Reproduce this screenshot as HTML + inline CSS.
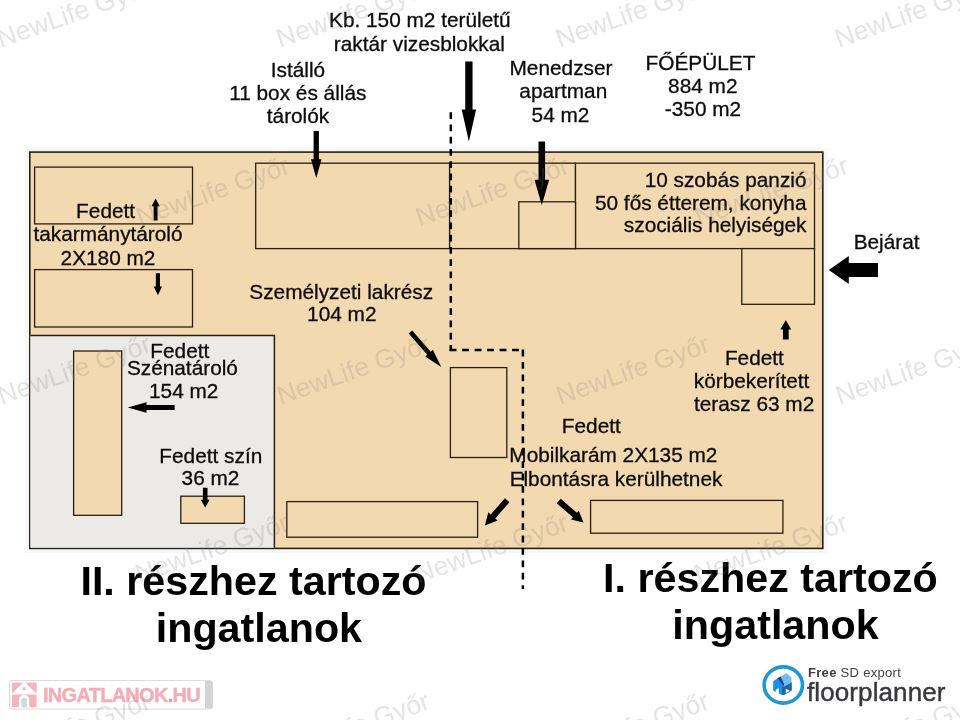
<!DOCTYPE html>
<html lang="hu"><head><meta charset="utf-8"><title>Alaprajz</title>
<style>
html,body{margin:0;padding:0;background:#fff;}
body{width:960px;height:720px;overflow:hidden;position:relative;}
svg{display:block;position:absolute;left:0;top:0;will-change:transform;}
text{font-family:"Liberation Sans",Arial,Helvetica,sans-serif;}
.lb{font-size:20.8px;fill:#0b0b0b;stroke:#0b0b0b;stroke-width:0.3px;}
.hd{font-size:41.25px;font-weight:700;fill:#000;}
.wm{font-size:26.5px;fill:#808080;fill-opacity:0.21;}
</style></head><body>
<svg width="960" height="720" viewBox="0 0 960 720">
<rect width="960" height="720" fill="#ffffff"/>
<rect x="25" y="147.5" width="802.5" height="405.5" fill="#eff3f8" opacity="0.6"/>
<rect x="29.8" y="152.1" width="793.00" height="396.30" fill="#f3d9b0" stroke="#2a1e13" stroke-width="1.6"/>
<rect x="30.3" y="335.6" width="244.1" height="212.1" fill="#eceae6"/>
<path d="M30.3 335.6 H274.4 V547.7" fill="none" stroke="#2a1e13" stroke-width="1.5"/>
<rect x="34.6" y="167.1" width="157.90" height="56.80" fill="#f3d9b0" stroke="#2a1e13" stroke-width="1.3"/>
<rect x="34.6" y="269.6" width="157.90" height="57.40" fill="#f3d9b0" stroke="#2a1e13" stroke-width="1.3"/>
<rect x="73.6" y="351" width="48.10" height="164.30" fill="#f3d9b0" stroke="#2a1e13" stroke-width="1.3"/>
<rect x="180.8" y="496.2" width="63.60" height="27.10" fill="#f3d9b0" stroke="#2a1e13" stroke-width="1.3"/>
<rect x="255.7" y="163.2" width="193.90" height="85.40" fill="#f3d9b0" stroke="#2a1e13" stroke-width="1.3"/>
<rect x="449.6" y="163.2" width="125.90" height="85.40" fill="#f3d9b0" stroke="#2a1e13" stroke-width="1.3"/>
<rect x="575.5" y="163.2" width="239.00" height="85.40" fill="#f3d9b0" stroke="#2a1e13" stroke-width="1.3"/>
<rect x="518.8" y="201.8" width="56.70" height="46.80" fill="#f3d9b0" stroke="#2a1e13" stroke-width="1.3"/>
<rect x="741.8" y="248.6" width="72.70" height="55.70" fill="#f3d9b0" stroke="#2a1e13" stroke-width="1.3"/>
<rect x="450.4" y="367.6" width="56.40" height="89.90" fill="#f3d9b0" stroke="#2a1e13" stroke-width="1.3"/>
<rect x="286.8" y="501.6" width="190.80" height="35.60" fill="#f3d9b0" stroke="#2a1e13" stroke-width="1.3"/>
<rect x="590.6" y="500.4" width="192.30" height="32.80" fill="#f3d9b0" stroke="#2a1e13" stroke-width="1.3"/>
<g fill="none" stroke="#000" stroke-width="2.5">
<path d="M450.8 112.2 V351.1" stroke-dasharray="6.7 5.55"/>
<path d="M449.6 349.9 H524.1" stroke-dasharray="6.9 5.6"/>
<path d="M522.9 349.6 V589" stroke-dasharray="6.8 5.6"/>
</g>
<g fill="#000">
<polygon points="313.60,131.00 313.60,159.20 310.95,159.20 316.25,177.90 321.55,159.20 318.90,159.20 318.90,131.00"/>
<polygon points="465.25,61.50 465.25,109.40 461.70,109.40 468.90,141.60 476.10,109.40 472.55,109.40 472.55,61.50"/>
<polygon points="538.50,141.50 538.50,179.70 534.50,179.70 541.80,205.20 549.10,179.70 545.10,179.70 545.10,141.50"/>
<polygon points="878.00,263.00 848.80,263.00 848.80,256.00 828.80,270.00 848.80,284.00 848.80,277.00 878.00,277.00"/>
<polygon points="157.55,220.50 157.55,206.20 159.70,206.20 155.60,198.40 151.50,206.20 153.65,206.20 153.65,220.50"/>
<polygon points="155.85,273.20 155.85,286.60 153.75,286.60 157.90,295.30 162.05,286.60 159.95,286.60 159.95,273.20"/>
<polygon points="174.60,405.05 146.50,405.05 146.50,402.20 127.70,407.50 146.50,412.80 146.50,409.95 174.60,409.95"/>
<polygon points="202.90,487.70 202.90,499.80 200.80,499.80 205.20,507.50 209.60,499.80 207.50,499.80 207.50,487.70"/>
<polygon points="788.65,339.50 788.65,329.50 791.20,329.50 785.80,320.00 780.40,329.50 782.95,329.50 782.95,339.50"/>
<polygon points="408.67,333.62 427.29,354.74 425.19,356.59 441.25,367.10 432.84,349.85 430.74,351.70 412.13,330.58"/>
<polygon points="504.95,498.22 490.69,514.45 488.29,512.34 484.90,525.60 497.61,520.52 495.20,518.41 509.45,502.18"/>
<polygon points="556.73,503.26 572.93,517.37 571.03,519.56 583.50,522.60 578.78,510.66 576.87,512.85 560.67,498.74"/>
</g>
<text class="lb" x="419.8" y="26.7" text-anchor="middle">Kb. 150 m2 területű</text>
<text class="lb" x="419.4" y="50.6" text-anchor="middle">raktár vizesblokkal</text>
<text class="lb" x="298" y="77" text-anchor="middle">Istálló</text>
<text class="lb" x="297.8" y="100" text-anchor="middle">11 box és állás</text>
<text class="lb" x="298" y="122.8" text-anchor="middle">tárolók</text>
<text class="lb" x="561" y="75.3" text-anchor="middle">Menedzser</text>
<text class="lb" x="563.3" y="98.2" text-anchor="middle">apartman</text>
<text class="lb" x="560.5" y="121.8" text-anchor="middle">54 m2</text>
<text class="lb" x="700.5" y="69.5" text-anchor="middle">FŐÉPÜLET</text>
<text class="lb" x="702.8" y="92.5" text-anchor="middle">884 m2</text>
<text class="lb" x="703" y="115.5" text-anchor="middle">-350 m2</text>
<text class="lb" x="806.5" y="186.5" text-anchor="end">10 szobás panzió</text>
<text class="lb" x="806.5" y="209.5" text-anchor="end">50 fős étterem, konyha</text>
<text class="lb" x="806.5" y="232.1" text-anchor="end">szociális helyiségek</text>
<text class="lb" x="886.6" y="248.8" text-anchor="middle">Bejárat</text>
<text class="lb" x="105.6" y="218" text-anchor="middle">Fedett</text>
<text class="lb" x="108" y="241" text-anchor="middle">takarmánytároló</text>
<text class="lb" x="108" y="264.5" text-anchor="middle">2X180 m2</text>
<text class="lb" x="341.2" y="298.6" text-anchor="middle">Személyzeti lakrész</text>
<text class="lb" x="341.8" y="321.3" text-anchor="middle">104 m2</text>
<text class="lb" x="179.8" y="358.2" text-anchor="middle">Fedett</text>
<text class="lb" x="182.4" y="375.1" text-anchor="middle">Szénatároló</text>
<text class="lb" x="183.7" y="397.7" text-anchor="middle">154 m2</text>
<text class="lb" x="210.8" y="462.5" text-anchor="middle">Fedett szín</text>
<text class="lb" x="210.5" y="485" text-anchor="middle">36 m2</text>
<text class="lb" x="591.3" y="433" text-anchor="middle">Fedett</text>
<text class="lb" x="613.4" y="462.2" text-anchor="middle">Mobilkarám 2X135 m2</text>
<text class="lb" x="616" y="486" text-anchor="middle">Elbontásra kerülhetnek</text>
<text class="lb" x="754.4" y="364.5" text-anchor="middle">Fedett</text>
<text class="lb" x="751.6" y="387.5" text-anchor="middle">körbekerített</text>
<text class="lb" x="754.1" y="410.5" text-anchor="middle">terasz 63 m2</text>
<text class="hd" x="253.5" y="595.3" text-anchor="middle">II. részhez tartozó</text>
<text class="hd" x="258.9" y="641.8" text-anchor="middle">ingatlanok</text>
<text class="hd" x="770.4" y="592.2" text-anchor="middle">I. részhez tartozó</text>
<text class="hd" x="775.5" y="638.6" text-anchor="middle">ingatlanok</text>
<g>
<rect x="9.6" y="680.6" width="203" height="28.4" rx="2.5" fill="#ffffff" stroke="#dadada" stroke-width="1"/>
<path d="M205 681.1 H210 a2.5 2.5 0 0 1 2.5 2.5 V706 a2.5 2.5 0 0 1 -2.5 2.5 H205 Z" fill="#d2d3d4"/>
<rect x="12" y="682.6" width="24.6" height="24.6" fill="#f6b3ba"/>
<path d="M11.4 694.2 L24.3 681.6 L37.2 694.2 V694.6 H11.4 Z" fill="#ffffff"/>
<path d="M18.9 707.2 V700 a5.2 5.2 0 0 1 10.4 0 V707.2 Z" fill="#ffffff"/>
<path d="M21.3 707.2 V700.6 a2.9 2.9 0 0 1 5.8 0 V707.2 Z" fill="#c9dde0"/>
<circle cx="24.1" cy="688.6" r="1.9" fill="#c9d3dc"/>
<text x="43" y="702.2" style="font-size:20px;font-weight:700;letter-spacing:-0.72px;fill:#f4adb5;stroke:#f4adb5;stroke-width:0.4px">INGATLANOK<tspan fill="#a9a4a8">.</tspan>HU</text>
</g>
<g>
<ellipse cx="783.3" cy="685" rx="19.2" ry="18.1" fill="#ffffff" stroke="#1f97d4" stroke-width="3.6"/>
<g transform="translate(755,660) scale(0.069444)">
<polygon points="365,238 455,190 525,255 525,325 410,385 410,350" fill="#6dbdf0"/>
<polygon points="262,305 322,262 388,345 388,505 345,482 345,405 300,428 300,460 262,440" fill="#1c90e6"/>
<polygon points="322,262 368,236 418,345 412,388 388,350" fill="#123f8c"/>
<polygon points="410,385 530,320 530,440 420,505 388,505 388,345" fill="#1b64b0"/>
<polygon points="443,415 503,444 443,478" fill="#ffffff"/>
</g>
<text x="808" y="677.2" style="font-size:13px;fill:#3f3f44;letter-spacing:0.3px"><tspan font-weight="700">Free</tspan> SD export</text>
<text x="807" y="701.2" style="font-size:26px;fill:#38383d;stroke:#38383d;stroke-width:0.45px;letter-spacing:0.1px">floorplanner</text>
</g>
<g class="wm">
<text x="0.8" y="48" transform="rotate(-19.5 0.8 48)">NewLife Győr</text>
<text x="280.1" y="48" transform="rotate(-19.5 280.1 48)">NewLife Győr</text>
<text x="559.4" y="48" transform="rotate(-19.5 559.4 48)">NewLife Győr</text>
<text x="838.7" y="48" transform="rotate(-19.5 838.7 48)">NewLife Győr</text>
<text x="140.3" y="226.5" transform="rotate(-19.5 140.3 226.5)">NewLife Győr</text>
<text x="419.6" y="226.5" transform="rotate(-19.5 419.6 226.5)">NewLife Győr</text>
<text x="698.9" y="226.5" transform="rotate(-19.5 698.9 226.5)">NewLife Győr</text>
<text x="1.5" y="405" transform="rotate(-19.5 1.5 405)">NewLife Győr</text>
<text x="280.8" y="405" transform="rotate(-19.5 280.8 405)">NewLife Győr</text>
<text x="560.1" y="405" transform="rotate(-19.5 560.1 405)">NewLife Győr</text>
<text x="839.4" y="405" transform="rotate(-19.5 839.4 405)">NewLife Győr</text>
<text x="139.3" y="583.5" transform="rotate(-19.5 139.3 583.5)">NewLife Győr</text>
<text x="418.6" y="583.5" transform="rotate(-19.5 418.6 583.5)">NewLife Győr</text>
<text x="697.9" y="583.5" transform="rotate(-19.5 697.9 583.5)">NewLife Győr</text>
<text x="0.8" y="762" transform="rotate(-19.5 0.8 762)">NewLife Győr</text>
<text x="280.1" y="762" transform="rotate(-19.5 280.1 762)">NewLife Győr</text>
<text x="559.4" y="762" transform="rotate(-19.5 559.4 762)">NewLife Győr</text>
<text x="838.7" y="762" transform="rotate(-19.5 838.7 762)">NewLife Győr</text>
</g>
</svg></body></html>
